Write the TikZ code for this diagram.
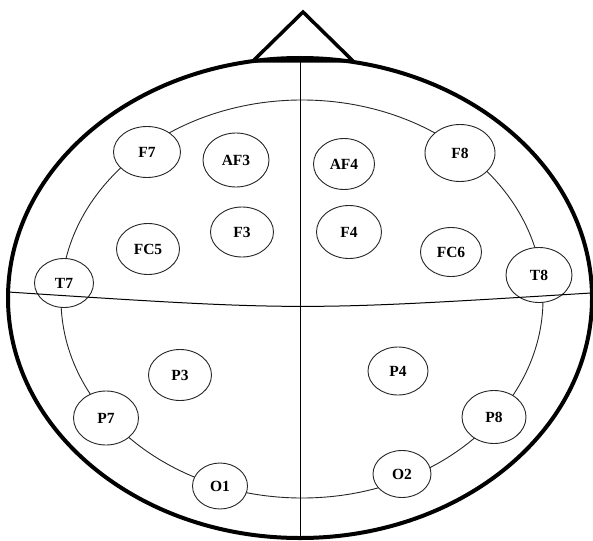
\documentclass[tikz,border=0pt]{standalone}
\usepackage{fontspec}
\setmainfont{Liberation Serif}
\usetikzlibrary{shapes.geometric}

\begin{document}
\begin{tikzpicture}[x=1pt, y=-1pt,
    head/.style={draw=black, line width=4pt},
    nose/.style={draw=black, line width=3.5pt, line join=miter},
    ring/.style={draw=black!85, line width=0.9pt},
    midline/.style={draw=black, line width=1pt},
    electrode/.style={ellipse, draw=black!85, line width=0.9pt, fill=white, inner sep=0pt,
        minimum width=63pt, minimum height=51pt, font=\bfseries\fontsize{15.5}{15.5}\selectfont}
]
\useasboundingbox (0,0) rectangle (593,540);

% Inner ring
\draw[ring] (302,299) ellipse [x radius=241pt, y radius=199pt];

% Vertical midline
\coordinate (vtop) at (300,60);
\coordinate (vbot) at (300,538);
\draw[midline] (vtop) -- (vbot);

% Electrodes
\node[electrode, minimum width=67pt, minimum height=51pt] (F7) at (147,152) {F7};
\node[electrode, minimum width=66pt, minimum height=54pt] (AF3) at (236,160) {AF3};
\node[electrode, minimum width=61pt, minimum height=51pt] (AF4) at (344,164) {AF4};
\node[electrode, minimum width=70pt, minimum height=57pt] (F8) at (460,153) {F8};
\node[electrode] (FC5) at (148,249) {FC5};
\node[electrode, minimum height=50pt] (F3) at (242,232) {F3};
\node[electrode, minimum width=65pt, minimum height=53pt] (F4) at (349,232) {F4};
\node[electrode, minimum width=61pt, minimum height=49pt] (FC6) at (451,252) {FC6};
\node[electrode, minimum width=59pt, minimum height=49pt] (T7) at (64,283) {T7};
\node[electrode, minimum width=66pt, minimum height=55pt] (T8) at (539,275) {T8};
\node[electrode] (P3) at (180,375) {P3};
\node[electrode, minimum width=60pt, minimum height=48pt] (P4) at (398,371) {P4};
\node[electrode, minimum width=65pt, minimum height=54pt] (P7) at (106,418) {P7};
\node[electrode, minimum width=64pt, minimum height=53pt] (P8) at (494,417) {P8};
\node[electrode, minimum width=55pt, minimum height=46pt] (O1) at (220,486) {O1};
\node[electrode, minimum width=58pt, minimum height=47pt] (O2) at (402,474) {O2};

% Ear to ear line
\coordinate (lear) at (8,292);
\coordinate (rear) at (591,293);
\draw[midline] (lear) .. controls (300,311) .. (rear);

% Head and nose
\draw[head] (300,298) ellipse [x radius=292pt, y radius=240pt];
\coordinate (apex) at (303,12);
\coordinate (nl) at (253,61);
\coordinate (nr) at (353,61);
\draw[nose] (nl) -- (apex) -- (nr) -- cycle;

\end{tikzpicture}
\end{document}
